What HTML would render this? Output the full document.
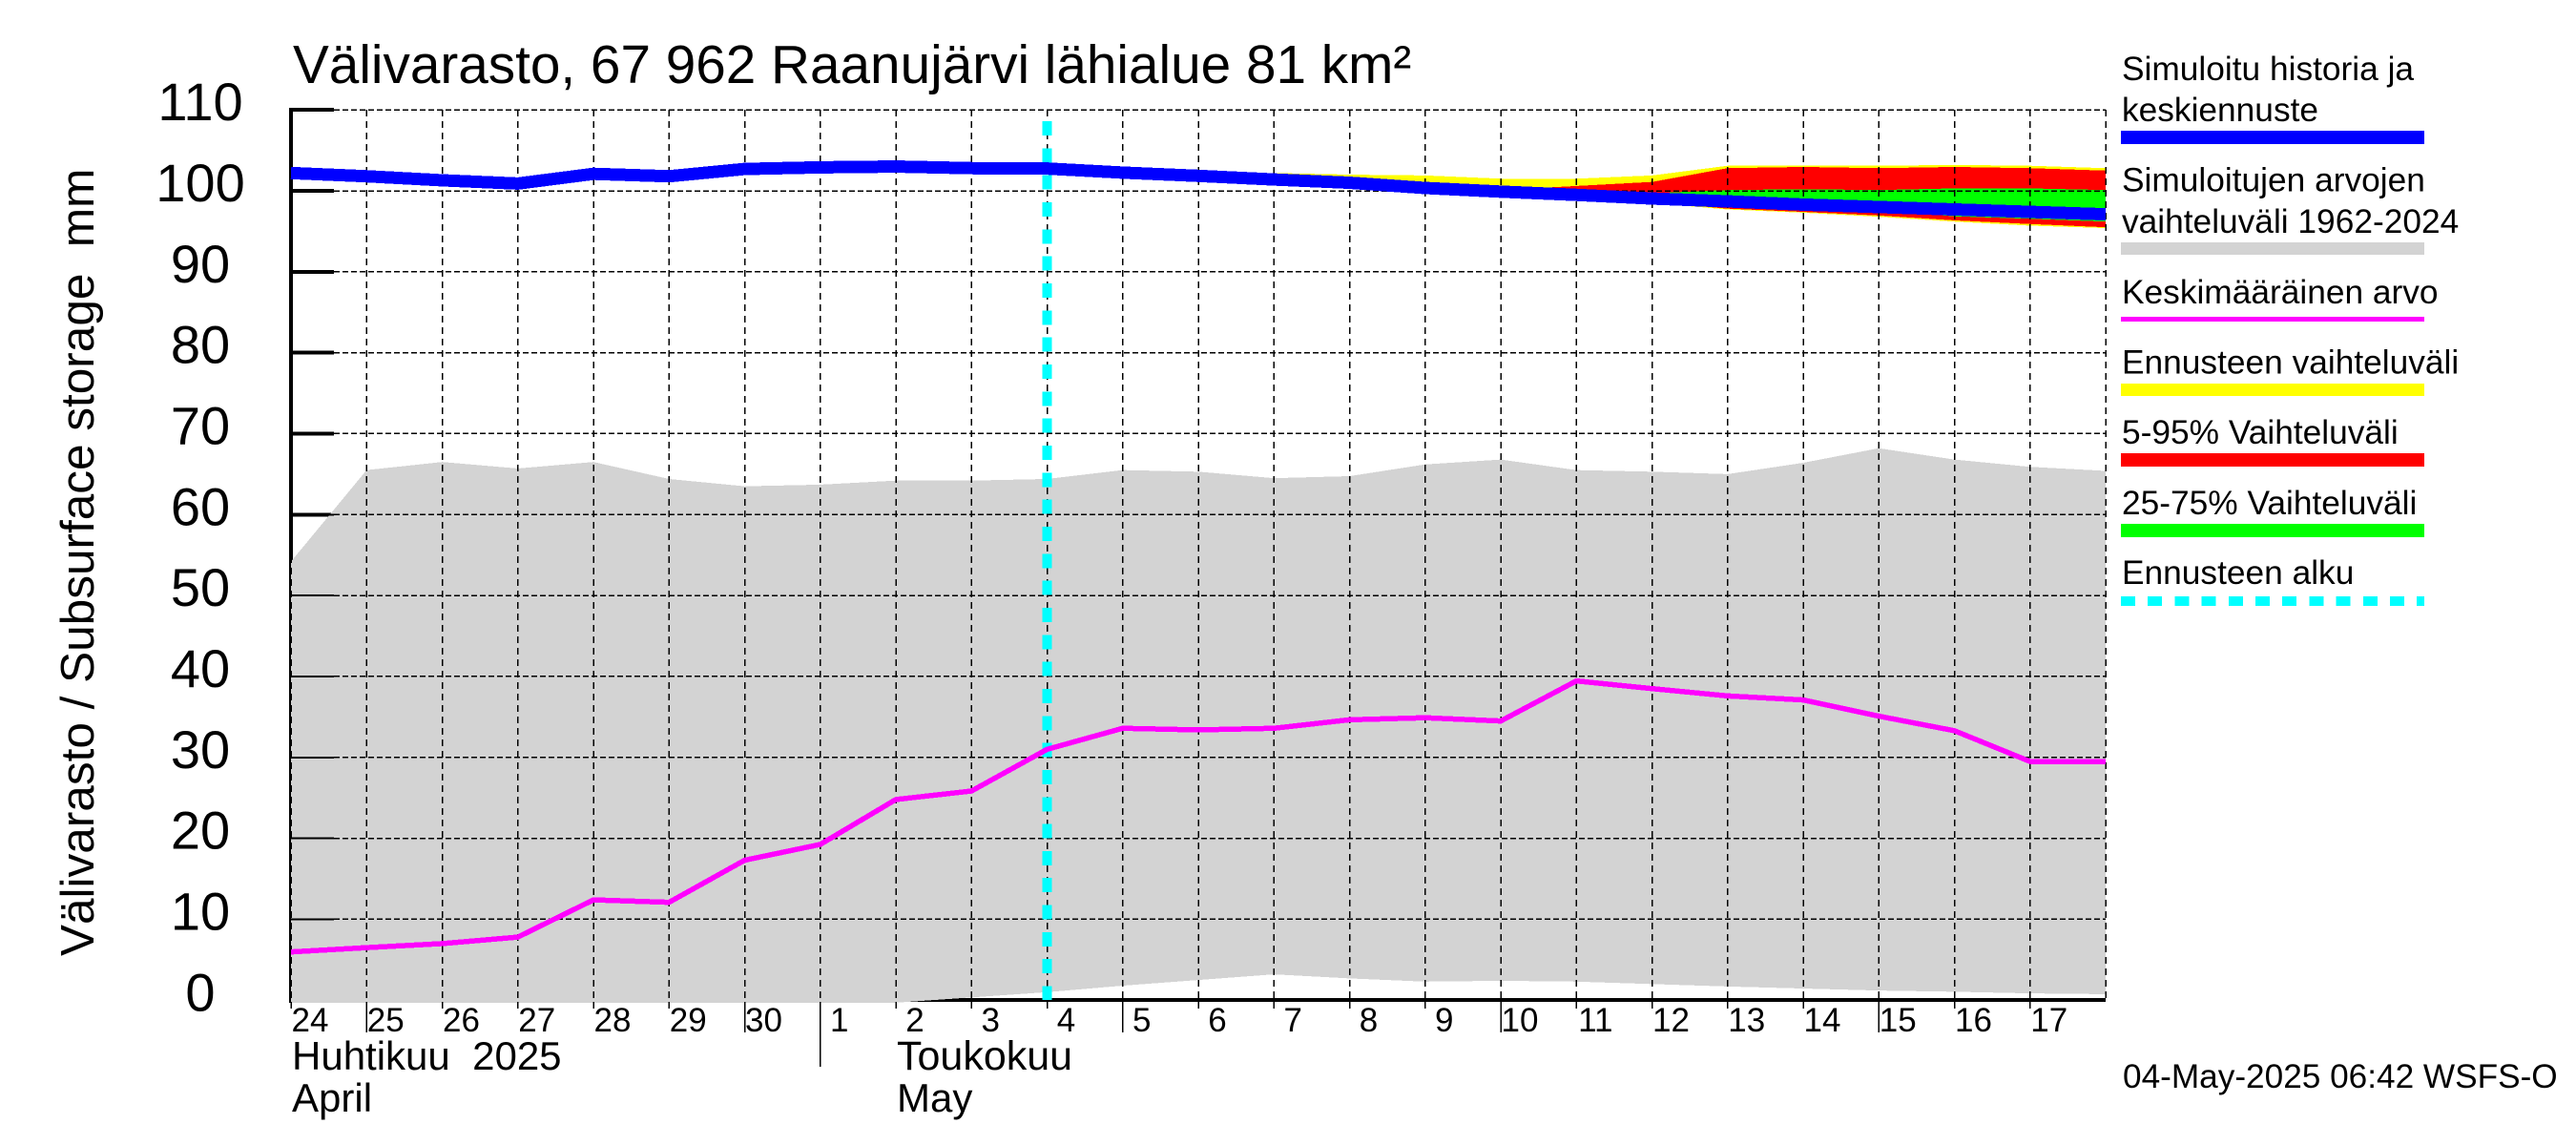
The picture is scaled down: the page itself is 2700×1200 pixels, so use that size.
<!DOCTYPE html>
<html lang="fi">
<head>
<meta charset="utf-8">
<title>Välivarasto, 67 962 Raanujärvi lähialue</title>
<style>
html,body{margin:0;padding:0;background:#fff;width:2700px;height:1200px;overflow:hidden}
svg{display:block;font-family:"Liberation Sans",sans-serif}
</style>
</head>
<body>
<svg id="chart" xmlns="http://www.w3.org/2000/svg" width="2700" height="1200" viewBox="0 0 2700 1200">
  <rect width="2700" height="1200" fill="#fff"/>
  <text x="307" y="87" font-size="56.7" fill="#000">Välivarasto, 67 962 Raanujärvi lähialue 81 km²</text>
  <text transform="translate(98,1002) rotate(-90)" font-size="49.5" fill="#000" xml:space="preserve">Välivarasto / Subsurface storage  mm</text>
  <g id="under-layer"></g>
  <g id="plot-layer"></g>
  <g id="label-layer"></g>
  <text x="306" y="1121" font-size="42" xml:space="preserve">Huhtikuu  2025</text>
  <text x="306" y="1165" font-size="42">April</text>
  <text x="940" y="1121" font-size="43">Toukokuu</text>
  <text x="940" y="1165" font-size="42">May</text>

  <g font-size="35.3" fill="#000" shape-rendering="crispEdges">
    <text x="2224" y="84">Simuloitu historia ja</text>
    <text x="2224" y="127">keskiennuste</text>
    <rect x="2223" y="137" width="318" height="14" fill="#0000ff"/>
    <text x="2224" y="200.5">Simuloitujen arvojen</text>
    <text x="2224" y="244">vaihteluväli 1962-2024</text>
    <rect x="2223" y="254" width="318" height="13" fill="#d3d3d3"/>
    <text x="2224" y="318">Keskimääräinen arvo</text>
    <rect x="2223" y="332" width="318" height="5" fill="#ff00ff"/>
    <text x="2224" y="391.5">Ennusteen vaihteluväli</text>
    <rect x="2223" y="402" width="318" height="13" fill="#ffff00"/>
    <text x="2224" y="465">5-95% Vaihteluväli</text>
    <rect x="2223" y="475" width="318" height="14" fill="#ff0000"/>
    <text x="2224" y="539">25-75% Vaihteluväli</text>
    <rect x="2223" y="549" width="318" height="14" fill="#00ff00"/>
    <text x="2224" y="612">Ennusteen alku</text>
    <line x1="2223" x2="2541" y1="630" y2="630" stroke="#00ffff" stroke-width="10" stroke-dasharray="15 13.2"/>
  </g>
  <text x="2225" y="1140" font-size="35.2" fill="#000">04-May-2025 06:42 WSFS-O</text>
</svg>
<script>
const yTickValues = [0,10,20,30,40,50,60,70,80,90,100,110];
const dayLabels = ["24","25","26","27","28","29","30","1","2","3","4","5","6","7","8","9","10","11","12","13","14","15","16","17"];
const longTickDays = ["25","30","5","10","15"];
const monthStartDay = "1";
const forecastStartIndex = 10;

const rangeUpper = [54.2,65.5,66.5,65.7,66.5,64.4,63.5,63.7,64.2,64.2,64.4,65.5,65.3,64.5,64.75,66.2,66.8,65.5,65.3,65.0,66.4,68.2,66.8,65.9,65.4];
const rangeLower = [-0.3,-0.3,-0.3,-0.3,-0.3,-0.3,-0.3,-0.3,-0.3,0.35,1.0,1.8,2.5,3.2,2.7,2.3,2.4,2.3,2.0,1.7,1.45,1.2,1.05,0.85,0.75];
const meanValues = [5.97,6.5,7.0,7.8,12.4,12.1,17.3,19.25,24.8,25.85,31.0,33.6,33.4,33.6,34.65,34.9,34.5,39.45,38.5,37.6,37.1,35.1,33.3,29.5,29.5];
const simulatedValues = [102.2,101.8,101.3,100.9,102.1,101.8,102.7,102.9,103.0,102.8,102.75,102.25,101.85,101.4,101.0,100.35,99.9,99.5,99.05,98.7,98.3,98.0,97.7,97.4,97.1];

const forecastUpper = [102.75,102.5,102.3,102.2,102.0,101.9,101.5,101.5,101.9,103.1,103.1,103.1,103.2,103.1,102.8];
const forecastLower = [102.75,102.25,101.85,101.4,101.0,100.35,99.9,99.5,98.5,97.7,97.3,96.8,96.2,95.7,95.4];
const p95Values = [102.75,102.25,101.85,101.4,101.0,100.35,100.1,100.6,101.1,102.8,102.95,102.8,102.95,102.8,102.5];
const p5Values = [102.75,102.25,101.85,101.4,101.0,100.35,99.9,99.5,98.6,97.8,97.4,96.95,96.35,95.9,95.5];
const p75Values = [102.75,102.25,101.85,101.4,101.0,100.35,99.9,99.5,99.7,100.1,100.2,100.1,100.3,100.3,100.1];
const p25Values = [102.75,102.25,101.85,101.4,101.0,100.35,99.9,99.5,99.05,98.6,98.1,97.6,96.85,96.55,96.2];

const NS = "http://www.w3.org/2000/svg";
const xScale = i => 305 + 79.25 * i;
const yScale = v => 1048.3 - 8.483 * v;
const PLOT_RIGHT = xScale(24);
const PLOT_TOP = yScale(110);
const under = document.getElementById("under-layer");
const plot = document.getElementById("plot-layer");
const labels = document.getElementById("label-layer");

function make(tag, attrs, parent) {
  const el = document.createElementNS(NS, tag);
  for (const k in attrs) el.setAttribute(k, attrs[k]);
  parent.appendChild(el);
  return el;
}
function pts(upper, lower, offset) {
  const a = upper.map((v, i) => xScale(i + offset).toFixed(2) + "," + yScale(v).toFixed(2));
  const b = lower.map((v, i) => xScale(i + offset).toFixed(2) + "," + yScale(v).toFixed(2)).reverse();
  return a.concat(b).join(" ");
}
function linePts(values) {
  return values.map((v, i) => xScale(i).toFixed(2) + "," + yScale(v).toFixed(2)).join(" ");
}

/* axis lines beneath the grey range */
const yAxis = make("line", {x1:305, x2:305, y1:PLOT_TOP-2, y2:1050, stroke:"#000", "stroke-width":4, "shape-rendering":"crispEdges"}, under);


const xAxis = make("line", {x1:303, x2:PLOT_RIGHT, y1:1048, y2:1048, stroke:"#000", "stroke-width":4, "shape-rendering":"crispEdges"}, under);


yTickValues.forEach(v => {
  if (v === 0) return;
  const t = make("line", {x1:303, x2:350, y1:yScale(v), y2:yScale(v), stroke:"#000", "stroke-width":4, "shape-rendering":"crispEdges"}, under);
  
  
});

/* grey historical range */
const range = make("polygon", {points:pts(rangeUpper, rangeLower, 0), fill:"#d3d3d3", "shape-rendering":"crispEdges"}, plot);



/* forecast bands */
const bandYellow = make("polygon", {points:pts(forecastUpper, forecastLower, forecastStartIndex), fill:"#ffff00", "shape-rendering":"crispEdges"}, plot);


const bandRed = make("polygon", {points:pts(p95Values, p5Values, forecastStartIndex), fill:"#ff0000", "shape-rendering":"crispEdges"}, plot);


const bandGreen = make("polygon", {points:pts(p75Values, p25Values, forecastStartIndex), fill:"#00ff00", "shape-rendering":"crispEdges"}, plot);



/* horizontal grid */
yTickValues.forEach(v => {
  if (v === 0) return;
  const g = make("line", {x1:350, x2:PLOT_RIGHT, y1:yScale(v), y2:yScale(v), stroke:"#000", "stroke-width":1.5, "stroke-dasharray":"6 3", "shape-rendering":"crispEdges"}, plot);
  
  
  const t = make("line", {x1:303, x2:350, y1:yScale(v), y2:yScale(v), stroke:"#000", "stroke-width":2, "shape-rendering":"crispEdges"}, plot);
  
  
});

/* thin left edge of axis over the grey */
const yEdge = make("line", {x1:304, x2:304, y1:PLOT_TOP, y2:1051, stroke:"#000", "stroke-width":2, "shape-rendering":"crispEdges"}, plot);



/* vertical grid and day ticks */
for (let i = 0; i <= 24; i++) {
  const day = dayLabels[i];
  const g = make("line", {x1:xScale(i), x2:xScale(i), y1:PLOT_TOP, y2:1051, stroke:"#000", "stroke-width":1.5, "stroke-dasharray":"7 5", "shape-rendering":"crispEdges"}, plot);
  
  
  let tickEnd = 1057;
  if (longTickDays.includes(day)) tickEnd = 1082;
  if (day === monthStartDay) tickEnd = 1118;
  if (i < 24) {
    const t = make("line", {x1:xScale(i), x2:xScale(i), y1:1050, y2:tickEnd, stroke:"#000", "stroke-width":1.5, "shape-rendering":"crispEdges"}, plot);
    
    
  }
}

/* forecast start */
const startLine = make("line", {x1:xScale(forecastStartIndex), x2:xScale(forecastStartIndex), y1:127, y2:1048, stroke:"#00ffff", "stroke-width":10, "stroke-dasharray":"15 13.33", "shape-rendering":"crispEdges"}, plot);



/* mean line */
const meanLine = make("polyline", {points:linePts(meanValues), fill:"none", stroke:"#ff00ff", "stroke-width":5.5, "stroke-linejoin":"round", "shape-rendering":"crispEdges"}, plot);



/* simulated line */
const simLine = make("polyline", {points:linePts(simulatedValues), fill:"none", stroke:"#0000ff", "stroke-width":13, "stroke-linejoin":"round", "shape-rendering":"crispEdges"}, plot);



/* tick labels */
yTickValues.forEach(v => {
  const t = make("text", {x:210, y:yScale(v)+11, "font-size":56, "text-anchor":"middle", fill:"#000"}, labels);
  
  
  t.textContent = String(v);
});
dayLabels.forEach((d, i) => {
  const t = make("text", {x:xScale(i)+20, y:1081, "font-size":35, "text-anchor":"middle", fill:"#000"}, labels);
  
  
  t.textContent = d;
});
</script>
</body>
</html>
